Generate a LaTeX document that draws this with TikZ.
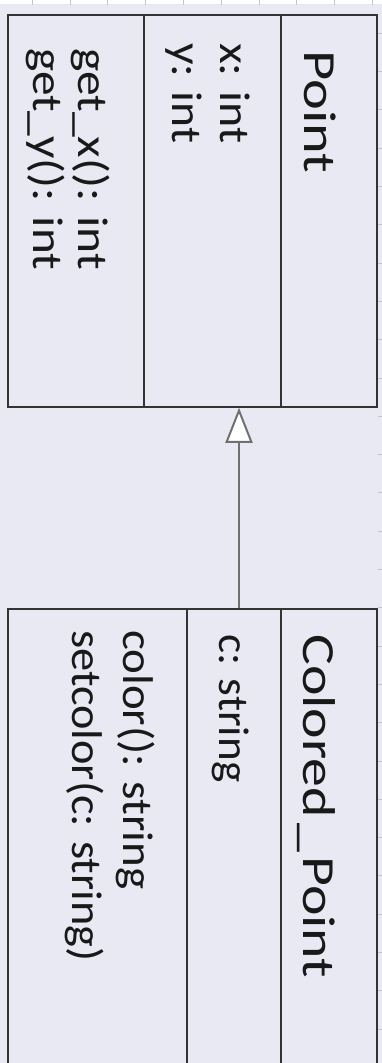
\documentclass[tikz,border=0pt]{standalone}
\usepackage{fontspec}
\setmainfont{Carlito}
\usetikzlibrary{arrows.meta}
\definecolor{umlbg}{HTML}{E8E9F3}
\definecolor{umlline}{HTML}{333333}
\definecolor{umlarrow}{HTML}{707070}
\definecolor{umlgrid}{HTML}{C4C4CC}
\newcommand{\fitw}[2]{\resizebox{#1pt}{\height}{#2}}
\tikzset{
  classbox/.style={draw=umlline, line width=1.5pt, fill=umlbg, inner sep=0pt},
  hdr/.style={rotate=-90, anchor=base west, inner sep=0pt, font=\fontsize{46}{46}\selectfont, text=black!90},
  mbr/.style={rotate=-90, anchor=base west, inner sep=0pt, font=\fontsize{43}{48}\selectfont, text=black!90},
  inherit/.style={draw=umlarrow, line width=2pt, -{Triangle[length=35pt,width=27pt,fill=white]}}
}
\begin{document}
\begin{tikzpicture}[x=1pt,y=-1pt]
\useasboundingbox (0,0) rectangle (382,1063);
\fill[white] (0,0) rectangle (382,1063);
\fill[umlbg] (0,4) rectangle (382,1063);
\foreach \i in {0,...,9} \draw[umlgrid] (32+37.8*\i,0) -- (32+37.8*\i,5);
\foreach \j in {0,...,27} \draw[umlgrid] (378,33+38.3*\j) -- (382,33+38.3*\j);
% classes
\node[classbox, minimum width=369pt, minimum height=392pt] (point) at (192.5,211) {};
\node[classbox, minimum width=369pt, minimum height=520pt] (colored) at (192.5,869) {};
\draw[umlline, line width=1.5pt] (144,15) -- (144,407) (281,15) -- (281,407);
\draw[umlline, line width=1.5pt] (187,609) -- (187,1063) (281,609) -- (281,1063);
% texts
\node[hdr] (pointname) at (304,50) {\fitw{123}{Point}};
\node[mbr] (px) at (220,43) {\fitw{100}{x: int}};
\node[mbr] (py) at (172,43) {\fitw{100}{y: int}};
\node[mbr] (pgetx) at (78,48) {\fitw{222}{get\_x(): int}};
\node[mbr] (pgety) at (33,48) {\fitw{222}{get\_y(): int}};
\node[hdr] (cpname) at (303,634) {\fitw{344}{Colored\kern5pt\_\kern3pt Point}};
\node[mbr] (cpc) at (219,634) {\fitw{148}{c: string}};
\node[mbr] (cpcolor) at (123,630) {\fitw{259}{color(): string}};
\node[mbr] (cpset) at (72,630) {\fitw{331}{setcolor(c: string)}};
% inheritance
\coordinate (ax) at (239,0);
\draw[inherit] (colored.north -| ax) -- (point.south -| ax);
\end{tikzpicture}
\end{document}
